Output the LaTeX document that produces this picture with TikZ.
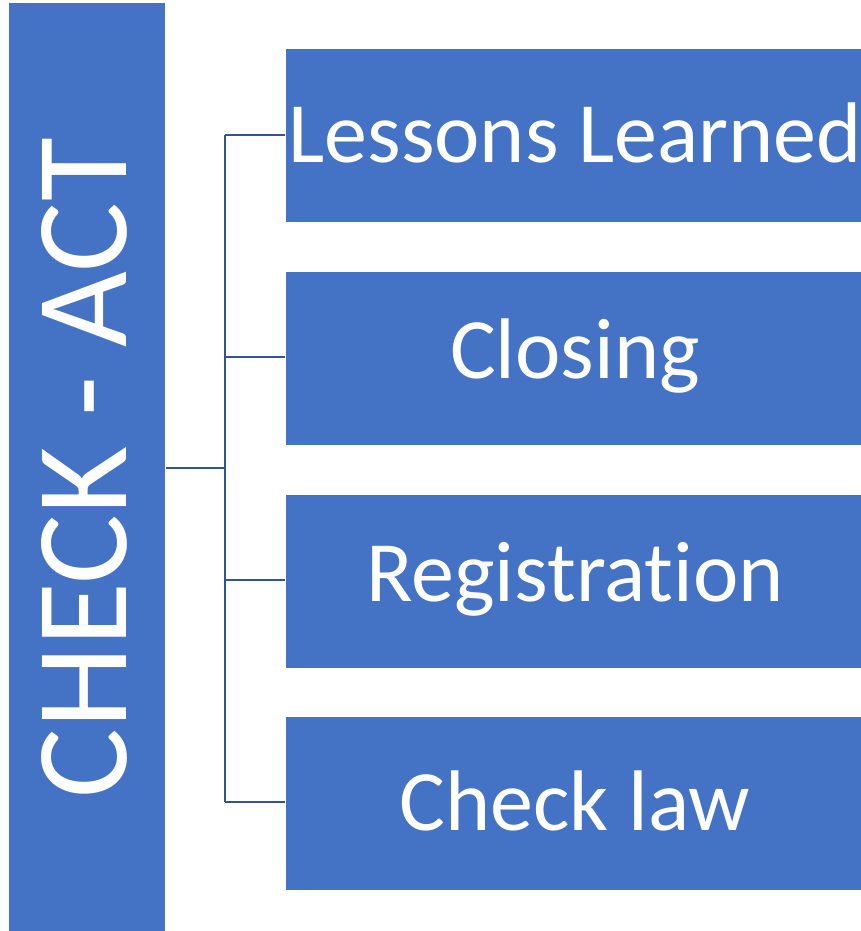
\documentclass[tikz,border=0pt]{standalone}
\usepackage{fontspec}
\setmainfont{Carlito}[Ligatures=NoCommon]
\definecolor{boxblue}{HTML}{4472C4}
\definecolor{linkblue}{HTML}{2F5597}
\begin{document}
\begin{tikzpicture}[x=1pt,y=-1pt,
  bluebox/.style={fill=boxblue,draw=white,line width=0.8pt,inner sep=0pt,text=white},
  link/.style={draw=linkblue,line width=2pt}]
\useasboundingbox (0,0) rectangle (861,931);
\node[bluebox,minimum width=157pt,minimum height=940pt,anchor=north west] (root) at (8,2) {};
\node[text=white,rotate=90,font=\fontsize{131}{131}\selectfont,inner sep=0pt] (roottext) at (84,468) {CHECK - ACT};
\foreach \i/\t/\y in {1/Lessons Learned/48,2/Closing/271,3/Registration/494,4/Check law/716}{
  \node[bluebox,minimum width=600pt,minimum height=174pt,anchor=north west] (b\i) at (285,\y) {};
  \node[text=white,font=\fontsize{86}{86}\selectfont,inner sep=0pt] (t\i) at (575,\y+85) {\t};
}
\coordinate (hub) at (225,468);
\coordinate (top) at (225,135);
\coordinate (bot) at (225,802);
\draw[link] (166,468) -- (hub);
\draw[link] (top) -- (bot);
\foreach \i/\y in {1/135,2/357,3/580,4/802}{
  \draw[link] (225,\y) -- (b\i.west |- 0,\y);
}
\end{tikzpicture}
\end{document}
